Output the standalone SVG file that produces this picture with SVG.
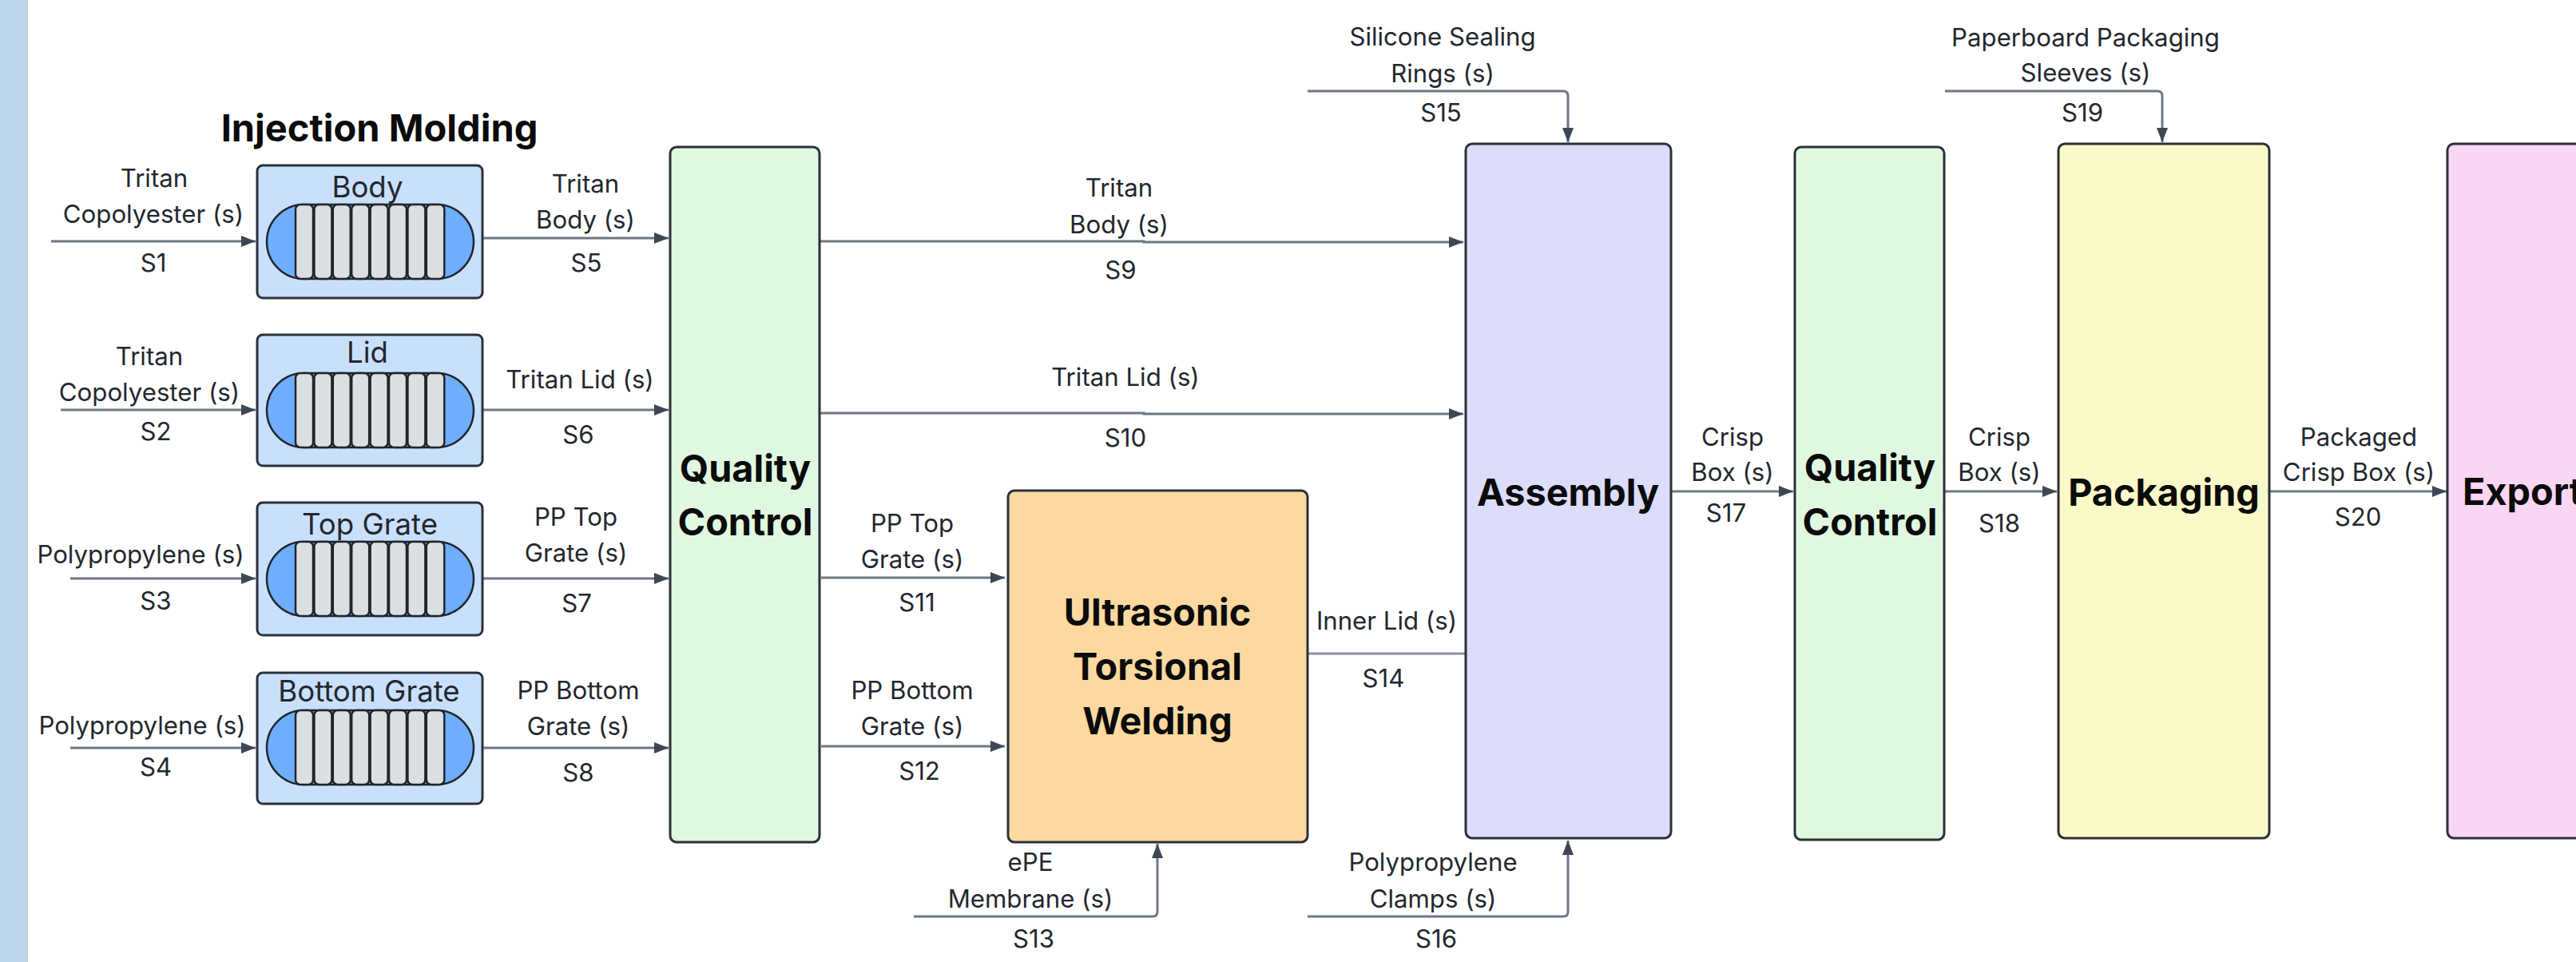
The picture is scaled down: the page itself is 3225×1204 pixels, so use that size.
<svg xmlns="http://www.w3.org/2000/svg" xmlns:xlink="http://www.w3.org/1999/xlink" width="3225" height="1204" viewBox="0 0 3225 1204">
<style>
text{font-family:Inter,"Liberation Sans",sans-serif;text-anchor:middle;fill:#23272e}
.l{font-size:31.2px}
.n{font-size:36.6px}
.b{font-size:46.8px;font-weight:700;fill:#0b0b0b}
.box{stroke:#2b3038;stroke-width:3}
.c{fill:none;stroke:#6f7784;stroke-width:3;marker-end:url(#a)}
.p{fill:none;stroke:#8a919c;stroke-width:3}
.t{fill:#dcdfe2;stroke:#20252b;stroke-width:2.5}
</style>
<defs>
<marker id="a" markerUnits="userSpaceOnUse" markerWidth="18" markerHeight="14" refX="18" refY="7" orient="auto"><path d="M0 0L18 7L0 14z" fill="#3d4756"/></marker>
<g id="vessel">
<rect x="0" y="0" width="259" height="93" rx="46.5" fill="#6eaefc" stroke="#20252b" stroke-width="2.5"/>
<rect class="t" x="36" y="0" width="22" height="93" rx="6"/>
<rect class="t" x="59.4" y="0" width="22" height="93" rx="6"/>
<rect class="t" x="82.8" y="0" width="22" height="93" rx="6"/>
<rect class="t" x="106.2" y="0" width="22" height="93" rx="6"/>
<rect class="t" x="129.6" y="0" width="22" height="93" rx="6"/>
<rect class="t" x="153" y="0" width="22" height="93" rx="6"/>
<rect class="t" x="176.4" y="0" width="22" height="93" rx="6"/>
<rect class="t" x="199.8" y="0" width="22.5" height="93" rx="6"/>
</g>
</defs>
<rect width="3225" height="1204" fill="#fff"/>
<rect id="band" width="35" height="1204" fill="#bcd4ea"/>
<text id="title" x="475" y="177" style="font-size:47px;font-weight:700;fill:#0b0b0b">Injection Molding</text>
<g id="connectors">
<path class="c" d="M64 302H320"/>
<path class="c" d="M76 513H320"/>
<path class="c" d="M88 724H320"/>
<path class="c" d="M88 936H320"/>
<path class="c" d="M604 298H837"/>
<path class="c" d="M604 513H837"/>
<path class="c" d="M604 724H837"/>
<path class="c" d="M604 936H837"/>
<path class="c" d="M1026 302H1432V303H1832"/>
<path class="c" d="M1026 517H1432V518H1832"/>
<path class="c" d="M1028 723H1258"/>
<path class="c" d="M1028 934H1258"/>
<path class="c" d="M1144 1147H1443Q1449 1147 1449 1141V1056"/>
<path class="p" d="M1638 818H1834"/>
<path class="c" d="M1637 1147H1957Q1963 1147 1963 1141V1052"/>
<path class="c" d="M1637 114H1957Q1963 114 1963 120V178"/>
<path class="c" d="M2092 615H2245"/>
<path class="c" d="M2434 615H2575"/>
<path class="c" d="M2841 615H3063"/>
<path class="c" d="M2435 114H2701Q2707 114 2707 120V178"/>
</g>
<g id="body"><rect class="box" x="322" y="207" width="282" height="166" rx="7" fill="#c9e0fc"/><use xlink:href="#vessel" href="#vessel" x="334" y="256"/><text class="n" x="460" y="247">Body</text></g>
<g id="lid"><rect class="box" x="322" y="419" width="282" height="164" rx="7" fill="#c9e0fc"/><use xlink:href="#vessel" href="#vessel" x="334" y="467"/><text class="n" x="460" y="454">Lid</text></g>
<g id="top-grate"><rect class="box" x="322" y="629" width="282" height="166" rx="7" fill="#c9e0fc"/><use xlink:href="#vessel" href="#vessel" x="334" y="678"/><text class="n" x="463" y="669">Top Grate</text></g>
<g id="bottom-grate"><rect class="box" x="322" y="842" width="282" height="164" rx="7" fill="#c9e0fc"/><use xlink:href="#vessel" href="#vessel" x="334" y="889"/><text class="n" x="462" y="878">Bottom Grate</text></g>
<g id="qc1"><rect class="box" x="839" y="184" width="187" height="870" rx="8" fill="#e0f8e0"/><text class="b" x="933" y="603">Quality</text><text class="b" x="933" y="670">Control</text></g>
<g id="welding"><rect class="box" x="1262" y="614" width="375" height="440" rx="8" fill="#fdd9a0"/><text class="b" x="1449" y="783">Ultrasonic</text><text class="b" x="1449" y="851">Torsional</text><text class="b" x="1449" y="919">Welding</text></g>
<g id="assembly"><rect class="box" x="1835" y="180" width="257" height="869" rx="8" fill="#dcdcfb"/><text class="b" x="1963" y="633">Assembly</text></g>
<g id="qc2"><rect class="box" x="2247" y="184" width="187" height="867" rx="8" fill="#e0f8e0"/><text class="b" x="2341" y="602">Quality</text><text class="b" x="2341" y="670">Control</text></g>
<g id="packaging"><rect class="box" x="2577" y="180" width="264" height="869" rx="8" fill="#faf9c8"/><text class="b" x="2709" y="633">Packaging</text></g>
<g id="export"><rect class="box" x="3064" y="180" width="200" height="869" rx="8" fill="#f9d6f4"/><text class="b" x="3083" y="632" style="text-anchor:start">Export</text></g>
<g id="labels" transform="translate(0 1.5)">
<text class="l" x="193" y="232">Tritan</text><text class="l" x="192" y="277">Copolyester (s)</text><text class="l" x="192" y="338">S1</text>
<text class="l" x="187" y="455">Tritan</text><text class="l" x="187" y="500">Copolyester (s)</text><text class="l" x="195" y="549">S2</text>
<text class="l" x="176" y="703">Polypropylene (s)</text><text class="l" x="195" y="761">S3</text>
<text class="l" x="178" y="917">Polypropylene (s)</text><text class="l" x="195" y="969">S4</text>
<text class="l" x="733" y="239">Tritan</text><text class="l" x="733" y="284">Body (s)</text><text class="l" x="734" y="338">S5</text>
<text class="l" x="726" y="484">Tritan Lid (s)</text><text class="l" x="724" y="553">S6</text>
<text class="l" x="721" y="656">PP Top</text><text class="l" x="721" y="701">Grate (s)</text><text class="l" x="722" y="764">S7</text>
<text class="l" x="724" y="873">PP Bottom</text><text class="l" x="724" y="918">Grate (s)</text><text class="l" x="724" y="976">S8</text>
<text class="l" x="1401" y="244">Tritan</text><text class="l" x="1401" y="290">Body (s)</text><text class="l" x="1403" y="347">S9</text>
<text class="l" x="1409" y="481">Tritan Lid (s)</text><text class="l" x="1409" y="557">S10</text>
<text class="l" x="1142" y="664">PP Top</text><text class="l" x="1142" y="709">Grate (s)</text><text class="l" x="1148" y="763">S11</text>
<text class="l" x="1142" y="873">PP Bottom</text><text class="l" x="1142" y="918">Grate (s)</text><text class="l" x="1151" y="974">S12</text>
<text class="l" x="1290" y="1088">ePE</text><text class="l" x="1290" y="1134">Membrane (s)</text><text class="l" x="1294" y="1184">S13</text>
<text class="l" x="1736" y="786">Inner Lid (s)</text><text class="l" x="1732" y="858">S14</text>
<text class="l" x="1806" y="55">Silicone Sealing</text><text class="l" x="1806" y="101">Rings (s)</text><text class="l" x="1804" y="150">S15</text>
<text class="l" x="1794" y="1088">Polypropylene</text><text class="l" x="1794" y="1134">Clamps (s)</text><text class="l" x="1798" y="1184">S16</text>
<text class="l" x="2169" y="556">Crisp</text><text class="l" x="2169" y="600">Box (s)</text><text class="l" x="2161" y="651">S17</text>
<text class="l" x="2503" y="556">Crisp</text><text class="l" x="2503" y="600">Box (s)</text><text class="l" x="2503" y="664">S18</text>
<text class="l" x="2611" y="56">Paperboard Packaging</text><text class="l" x="2611" y="100">Sleeves (s)</text><text class="l" x="2607" y="150">S19</text>
<text class="l" x="2953" y="556">Packaged</text><text class="l" x="2953" y="600">Crisp Box (s)</text><text class="l" x="2952" y="656">S20</text>
</g>
</svg>
